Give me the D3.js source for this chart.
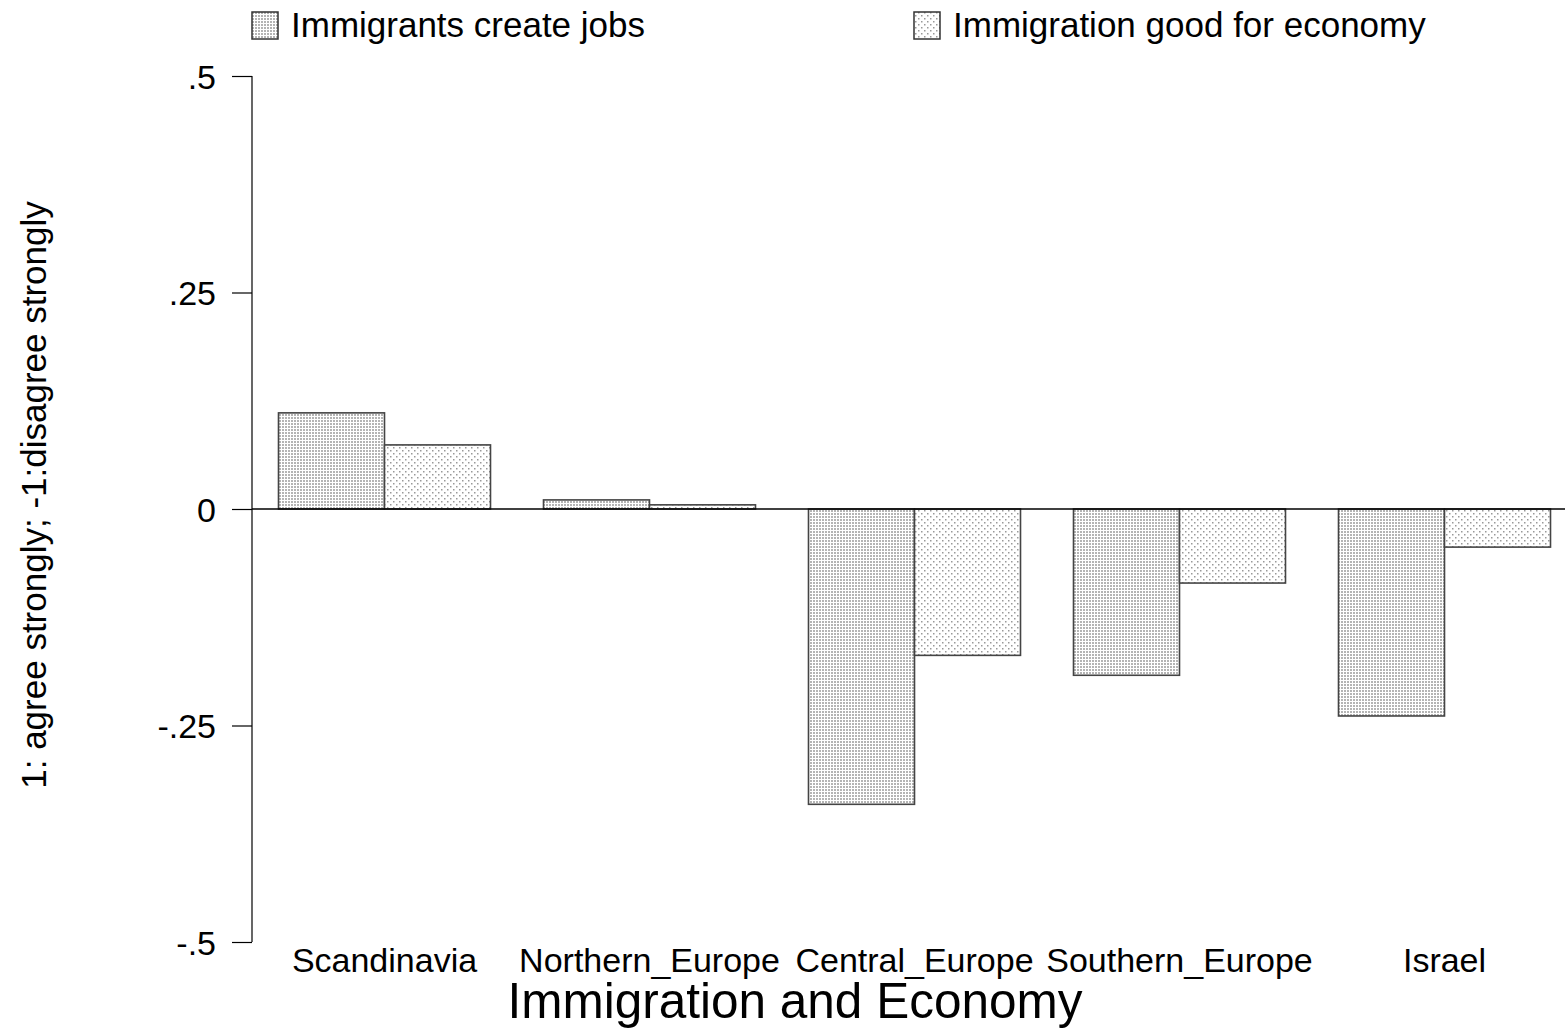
<!DOCTYPE html>
<html><head><meta charset="utf-8">
<script src="https://cdn.jsdelivr.net/npm/d3@7"></script>
<style>body{margin:0;background:#fff}svg{display:block}text{font-family:"Liberation Sans",Arial,sans-serif;fill:#000}</style>
</head><body>
<script>
const categories = ["Scandinavia","Northern_Europe","Central_Europe","Southern_Europe","Israel"];
const seriesNames = ["Immigrants create jobs","Immigration good for economy"];
const jobs = [0.111, 0.0105, -0.341, -0.192, -0.239];
const economy = [0.074, 0.0048, -0.169, -0.0855, -0.044];
const yTicks = [-0.5, -0.25, 0, 0.25, 0.5];
const yTickLabels = ["-.5", "-.25", "0", ".25", ".5"];
const xTitle = "Immigration and Economy";
const yTitle = "1: agree strongly; -1:disagree strongly";

const W = 1565, H = 1030;
const svg = d3.select("body").append("svg").attr("width", W).attr("height", H);
const defs = svg.append("defs");
const p1 = defs.append("pattern").attr("id","pat1").attr("patternUnits","userSpaceOnUse").attr("width",3).attr("height",3);
p1.append("rect").attr("width",3).attr("height",3).attr("fill","#fff");
p1.append("rect").attr("width",2).attr("height",2).attr("fill","#b4b4b4");
const p2 = defs.append("pattern").attr("id","pat2").attr("patternUnits","userSpaceOnUse").attr("width",6).attr("height",6);
p2.append("rect").attr("width",6).attr("height",6).attr("fill","#fff");
p2.append("rect").attr("x",0).attr("y",0).attr("width",1.5).attr("height",1.5).attr("fill","#999");
p2.append("rect").attr("x",3).attr("y",3).attr("width",1.5).attr("height",1.5).attr("fill","#999");
const fills = ["url(#pat1)","url(#pat2)"];

const y = d3.scaleLinear().domain([-0.5, 0.5]).range([942, 76]);
const x0 = d3.scaleBand().domain(categories).range([252, 1577]).paddingInner(0.2).paddingOuter(0.1);
const x1 = d3.scaleBand().domain([0,1]).range([0, x0.bandwidth()]);

const data = categories.map((c,i)=>({c, vals:[jobs[i], economy[i]]}));
const g = svg.append("g");
data.forEach(d=>{
  d.vals.forEach((v,j)=>{
    g.append("rect")
      .attr("x", x0(d.c) + x1(j))
      .attr("y", y(Math.max(0,v)))
      .attr("width", x1.bandwidth())
      .attr("height", Math.abs(y(v)-y(0)))
      .attr("fill", fills[j])
      .attr("stroke", "#444").attr("stroke-width", 1.6);
  });
});

svg.append("line").attr("x1",252).attr("x2",W).attr("y1",y(0)).attr("y2",y(0)).attr("stroke","#000").attr("stroke-width",1.3);

const yAxis = d3.axisLeft(y).tickValues(yTicks).tickSize(20).tickPadding(16)
  .tickFormat(d=>yTickLabels[yTicks.indexOf(d)]);
const ya = svg.append("g").attr("transform","translate(252,0)").call(yAxis);
ya.select(".domain").attr("stroke","#000").attr("stroke-width",1.2).attr("d","M0,76V942");
ya.selectAll(".tick line").attr("stroke","#000").attr("stroke-width",1.2);
ya.selectAll(".tick text").attr("font-size",34).attr("font-family","Liberation Sans, Arial, sans-serif").attr("dy","0.36em");

const xAxis = d3.axisBottom(x0).tickSize(0).tickPadding(0);
const xa = svg.append("g").attr("transform","translate(0,946)").call(xAxis);
xa.select(".domain").remove();
xa.selectAll(".tick text").attr("font-size",34).attr("font-family","Liberation Sans, Arial, sans-serif").attr("y",0).attr("dy","0.76em");

svg.append("text").attr("x",795).attr("y",1018).attr("text-anchor","middle").attr("font-size",49.5).text(xTitle);
svg.append("text").attr("transform","translate(46,495) rotate(-90)").attr("text-anchor","middle").attr("font-size",35).text(yTitle);

const legX = [252, 914];
seriesNames.forEach((n,i)=>{
  svg.append("rect").attr("x",legX[i]).attr("y",12).attr("width",26).attr("height",27)
    .attr("fill",fills[i]).attr("stroke","#333").attr("stroke-width",1.5);
  svg.append("text").attr("x",legX[i]+39).attr("y",37).attr("font-size",35).text(n);
});
</script>
</body></html>
